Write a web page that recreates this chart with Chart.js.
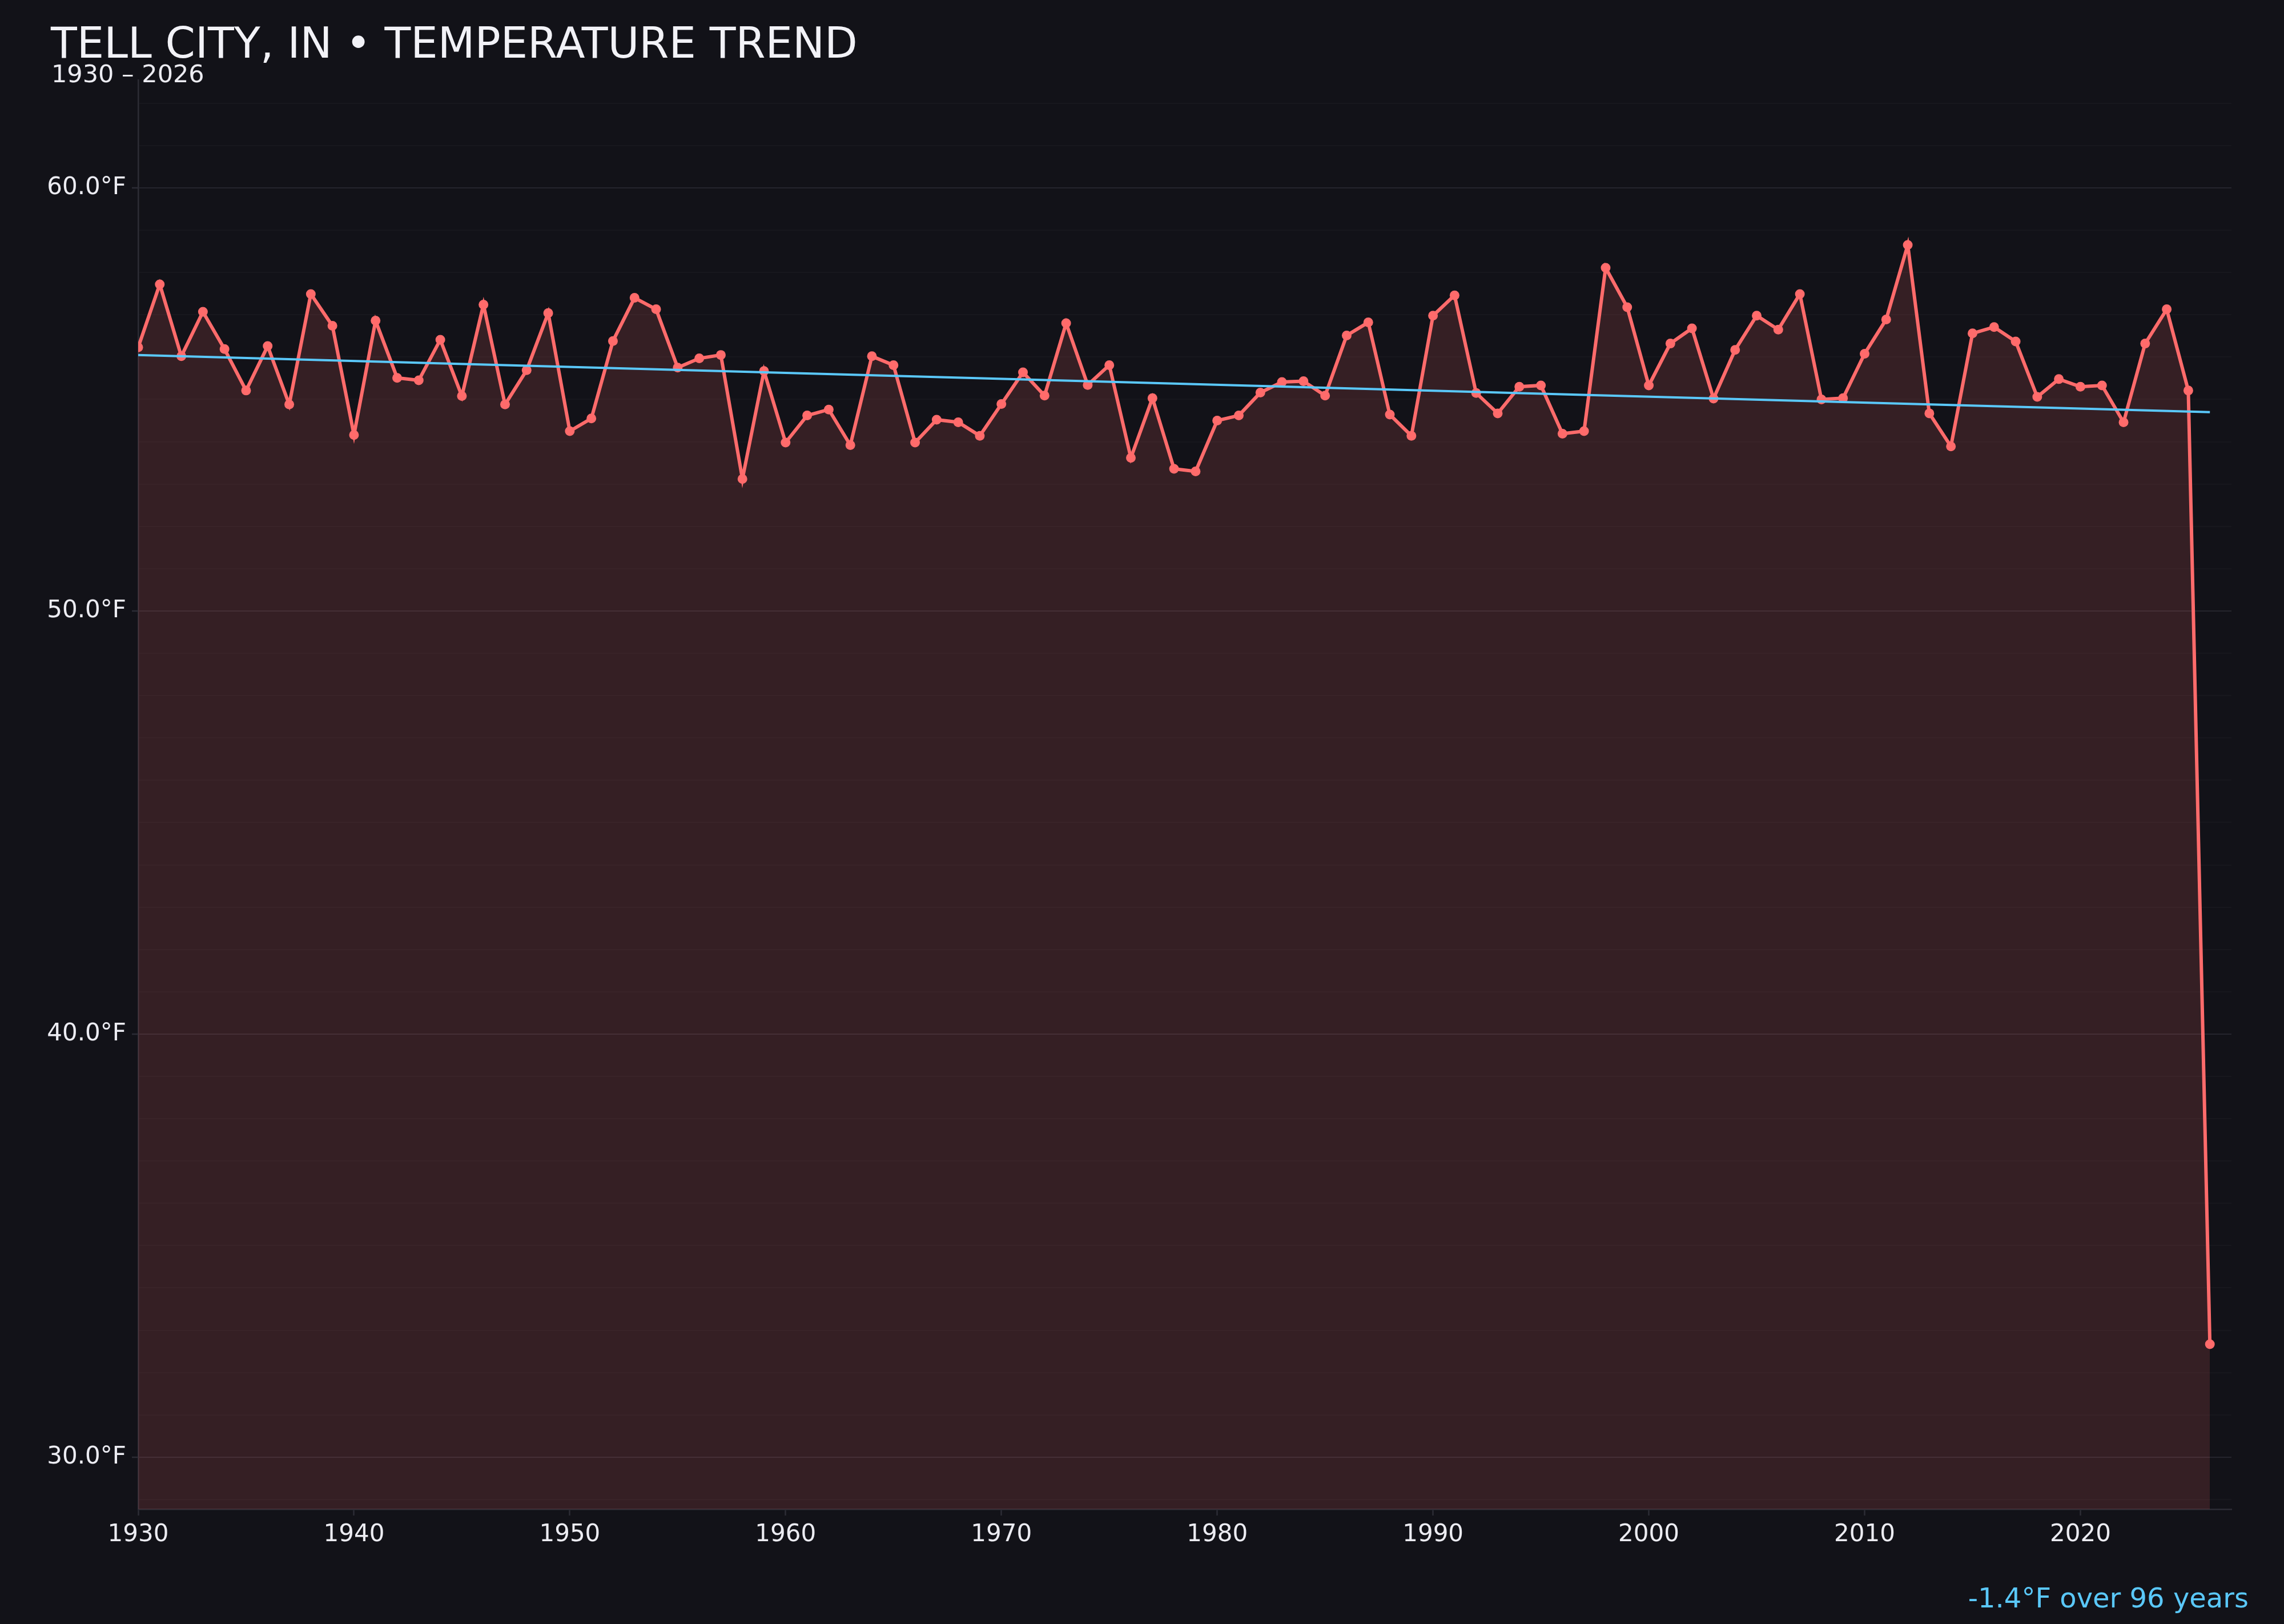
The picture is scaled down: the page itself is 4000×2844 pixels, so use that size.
<!DOCTYPE html>
<html>
<head>
<meta charset="utf-8">
<script src="https://cdn.jsdelivr.net/npm/chart.js@4.4.1/dist/chart.umd.min.js"></script>
<style>
  html, body { margin: 0; padding: 0; background: #121218; }
  canvas { display: block; }
</style>
</head>
<body>
<canvas id="c" width="4000" height="2844"></canvas>
<script>
// ---- Data ----
const years = [
  1930,1931,1932,1933,1934,1935,1936,1937,1938,1939,
  1940,1941,1942,1943,1944,1945,1946,1947,1948,1949,
  1950,1951,1952,1953,1954,1955,1956,1957,1958,1959,
  1960,1961,1962,1963,1964,1965,1966,1967,1968,1969,
  1970,1971,1972,1973,1974,1975,1976,1977,1978,1979,
  1980,1981,1982,1983,1984,1985,1986,1987,1988,1989,
  1990,1991,1992,1993,1994,1995,1996,1997,1998,1999,
  2000,2001,2002,2003,2004,2005,2006,2007,2008,2009,
  2010,2011,2012,2013,2014,2015,2016,2017,2018,2019,
  2020,2021,2022,2023,2024,2025,2026
];
const avgTempF = [
  56.23,57.72,56.02,57.07,56.19,55.21,56.26,54.88,57.49,56.74,
  54.16,56.86,55.51,55.45,56.41,55.08,57.24,54.88,55.69,57.04,
  54.25,54.55,56.38,57.40,57.13,55.75,55.97,56.05,53.12,55.67,
  53.98,54.62,54.76,53.92,56.02,55.81,53.98,54.52,54.46,54.14,
  54.89,55.64,55.09,56.80,55.34,55.81,53.62,55.03,53.36,53.30,
  54.50,54.62,55.16,55.41,55.43,55.09,56.51,56.82,54.64,54.14,
  56.98,57.46,55.15,54.67,55.30,55.33,54.19,54.25,58.11,57.18,
  55.33,56.32,56.68,55.02,56.17,56.98,56.65,57.49,55.00,55.03,
  56.08,56.89,58.65,54.67,53.89,56.56,56.71,56.37,55.06,55.48,
  55.30,55.33,54.46,56.32,57.13,55.21,32.67
];
const trendYears = [1930, 2026];
const trendValues = [56.05, 54.70];
const yRange = [28.77, 62.55];
const xRange = [1930, 2027];
const titleText = 'TELL CITY, IN \u2022 TEMPERATURE TREND';
const subtitleText = '1930 \u2013 2026';
const footerText = '-1.4\u00B0F over 96 years';

// ---- Styling ----
const FONT = "'DejaVu Sans', 'Noto Sans', sans-serif";
const BG = '#121218';
const LINE = '#ff6b6b';
const TREND = '#5ac8fa';
const AXIS = '#2c2c35';
const GRID_MAJOR = '#25252d';
const GRID_MINOR = '#17171d';
const TEXT = '#ececf2';

const tempPoints = years.map((y, i) => ({ x: y, y: avgTempF[i] }));
const trendPoints = trendYears.map((y, i) => ({ x: y, y: trendValues[i] }));

const isMajor = v => Math.abs(v % 10) < 1e-6;

const textPlugin = {
  id: 'texts',
  beforeDraw(chart) {
    const ctx = chart.ctx;
    ctx.save();
    ctx.fillStyle = BG;
    ctx.fillRect(0, 0, chart.width, chart.height);
    ctx.restore();
  },
  afterDraw(chart) {
    const ctx = chart.ctx;
    ctx.save();
    ctx.textBaseline = 'alphabetic';
    ctx.textAlign = 'left';
    ctx.fillStyle = '#f2f2f7';
    ctx.font = '75px ' + FONT;
    ctx.fillText(titleText, 89, 101);
    ctx.fillStyle = TEXT;
    ctx.font = '43px ' + FONT;
    ctx.fillText(subtitleText, 90, 144);
    ctx.textAlign = 'right';
    ctx.fillStyle = TREND;
    ctx.font = '48px ' + FONT;
    ctx.fillText(footerText, 3938, 2815);
    ctx.restore();
  }
};

Chart.defaults.font.family = FONT;

new Chart(document.getElementById('c'), {
  type: 'line',
  data: {
    datasets: [
      {
        label: 'Trend',
        data: trendPoints,
        borderColor: TREND,
        borderWidth: 4,
        pointRadius: 0,
        fill: false,
        tension: 0,
        order: 0
      },
      {
        label: 'Avg temperature',
        data: tempPoints,
        borderColor: LINE,
        borderWidth: 6,
        backgroundColor: 'rgba(255,107,107,0.15)',
        pointBackgroundColor: LINE,
        pointBorderWidth: 0,
        pointRadius: 8.5,
        fill: 'start',
        tension: 0,
        order: 1
      }
    ]
  },
  options: {
    responsive: false,
    animation: false,
    devicePixelRatio: 1,
    layout: { padding: { left: 0, top: 140, right: 92, bottom: 101 } },
    plugins: {
      legend: { display: false },
      title: { display: false },
      tooltip: { enabled: false }
    },
    scales: {
      x: {
        type: 'linear',
        min: xRange[0],
        max: xRange[1],
        afterFit: s => { s.height = 100; },
        border: { display: true, color: AXIS, width: 2.5 },
        grid: {
          display: true,
          drawOnChartArea: false,
          drawTicks: true,
          tickLength: 11,
          tickColor: AXIS,
          tickWidth: 2.5
        },
        ticks: {
          stepSize: 10,
          includeBounds: false,
          autoSkip: false,
          maxRotation: 0,
          padding: 9,
          color: TEXT,
          font: { size: 42, family: FONT },
          callback: v => String(v)
        }
      },
      y: {
        type: 'linear',
        min: yRange[0],
        max: yRange[1],
        afterFit: s => { s.width = 242; },
        border: { display: true, color: AXIS, width: 2.5 },
        grid: {
          display: true,
          drawOnChartArea: true,
          drawTicks: true,
          tickLength: 11,
          lineWidth: 2,
          color: ctx => (ctx.tick && isMajor(ctx.tick.value)) ? GRID_MAJOR : GRID_MINOR,
          tickColor: ctx => (ctx.tick && isMajor(ctx.tick.value)) ? AXIS : 'rgba(0,0,0,0)',
          tickWidth: 2.5
        },
        ticks: {
          stepSize: 1,
          includeBounds: false,
          autoSkip: false,
          padding: 10,
          color: TEXT,
          font: { size: 42, family: FONT },
          callback: v => isMajor(v) ? v.toFixed(1) + '\u00B0F' : ''
        }
      }
    }
  },
  plugins: [textPlugin]
});
</script>
</body>
</html>
